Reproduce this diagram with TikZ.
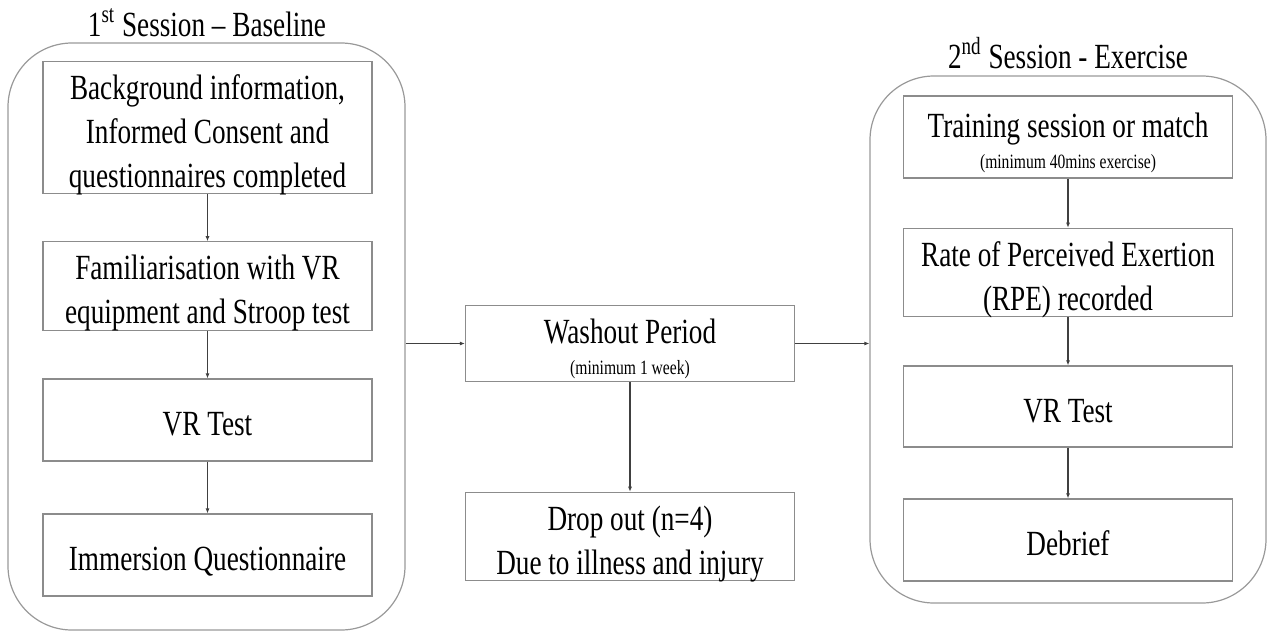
\documentclass[tikz,border=0pt]{standalone}
\usepackage{fontspec}
\setmainfont{Liberation Serif}
\usetikzlibrary{arrows.meta}

% text drawn taller than wide, and set a little low, as in the scanned chart
\newsavebox{\talltbox}
\newcommand{\tallt}[1]{\sbox{\talltbox}{\scalebox{1}[1.3]{\begin{tabular}{@{}c@{}}#1\end{tabular}}}%
  \raisebox{-3.5pt}[\ht\talltbox][\dp\talltbox]{\usebox{\talltbox}}}
\newcommand{\minortxt}{\fontsize{7.8}{9}\selectfont}

\begin{document}
\begin{tikzpicture}[x=0.5pt, y=-0.5pt, line width=0.6pt,
      every node/.append style={font=\fontsize{13.6}{17}\selectfont, inner sep=0pt},
      stage/.style={draw=black!45, minimum width=164.5pt},
      session/.style={draw=black!40, rounded corners=32pt},
      flow/.style={draw=black!75, -{Latex[length=2.5pt,width=2pt]}}]
  \useasboundingbox (0,0) rectangle (1268,632);

  % outer frames of the two sessions
  \node[session, minimum width=198.5pt, minimum height=293.5pt] (sessionA) at (206.5,336.5) {};
  \node[session, minimum width=198pt, minimum height=263.5pt] (sessionB) at (1068,339.5) {};
  \node[anchor=base] (titleA) at (207,30) {\tallt{1\textsuperscript{st} Session -- Baseline}};
  \node[anchor=base] (titleB) at (1068,62) {\tallt{2\textsuperscript{nd} Session - Exercise}};

  % 1st session
  \node[stage, minimum height=60.5pt] (bginfo) at (207.5,127.5)
    {\tallt{Background information,\\ Informed Consent and\\ questionnaires completed}};
  \node[stage, minimum height=41pt] (famil) at (207.5,286)
    {\tallt{Familiarisation with VR\\ equipment and Stroop test}};
  \node[stage, minimum height=41pt] (vrtestA) at (207.5,420) {\tallt{VR Test}};
  \node[stage, minimum height=41pt] (immersion) at (207.5,555) {\tallt{Immersion Questionnaire}};

  % washout and drop out
  \node[stage, minimum height=36.5pt] (washout) at (630,343.5)
    {\tallt{Washout Period\\[-5pt] \minortxt (minimum 1 week)}};
  \node[stage, minimum height=41.5pt] (dropout) at (630,536.5)
    {\tallt{Drop out (n=4)\\ Due to illness and injury}};

  % 2nd session
  \node[stage, minimum height=41pt] (training) at (1068,137)
    {\tallt{Training session or match\\[-5pt] \minortxt (minimum 40mins exercise)}};
  \node[stage, minimum height=40.5pt] (rpe) at (1068,272.5)
    {\tallt{Rate of Perceived Exertion\\ (RPE) recorded}};
  \node[stage, minimum height=40.5pt] (vrtestB) at (1068,406.5) {\tallt{VR Test}};
  \node[stage, minimum height=41pt] (debrief) at (1068,540) {\tallt{Debrief}};

  \draw[flow] (bginfo) -- (famil);
  \draw[flow] (famil) -- (vrtestA);
  \draw[flow] (vrtestA) -- (immersion);
  \draw[flow] (training) -- (rpe);
  \draw[flow] (rpe) -- (vrtestB);
  \draw[flow] (vrtestB) -- (debrief);
  \draw[flow] (washout) -- (dropout);
  \draw[flow] (washout.west -| sessionA.east) -- (washout.west);
  \draw[flow] (washout.east) -- (washout.east -| sessionB.west);
\end{tikzpicture}
\end{document}
